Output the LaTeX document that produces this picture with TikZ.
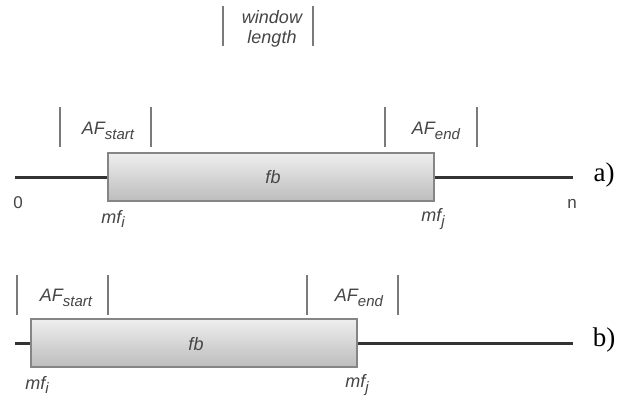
\documentclass[tikz,border=0pt]{standalone}
\usepackage{fontspec}
\setmainfont{Liberation Sans}
\newfontfamily\labserif{Liberation Serif}
\definecolor{txtgray}{HTML}{454545}
\definecolor{bargray}{HTML}{7A7A7A}
\definecolor{linedark}{HTML}{333333}
\definecolor{boxedge}{HTML}{858585}
\definecolor{boxtop}{HTML}{EEEEEE}
\definecolor{boxbot}{HTML}{BDBDBD}
\newcommand{\subtxt}[1]{\raisebox{-4.5pt}{\fontsize{15}{15}\selectfont #1}}
\begin{document}
\begin{tikzpicture}[x=1pt,y=-1pt,
  lbl/.style={font=\fontsize{18}{20}\selectfont\itshape, text=txtgray, inner sep=0pt},
  num/.style={font=\fontsize{17}{18}\selectfont, text=txtgray, inner sep=0pt},
  tag/.style={font=\labserif\fontsize{27}{28}\selectfont, text=black, inner sep=0pt},
  bar/.style={draw=bargray, line width=2.5pt},
  axis/.style={draw=linedark, line width=3pt},
  fbox/.style={draw=boxedge, line width=2.5pt, top color=boxtop, bottom color=boxbot,
    minimum width=326pt, minimum height=48pt, inner sep=0pt, rectangle}]
\useasboundingbox (0,0) rectangle (634,400);
\fill[white] (0,0) rectangle (634,400);

% window length
\draw[bar] (223,6) -- (223,46);
\draw[bar] (313,6) -- (313,46);
\node[lbl, align=center] (wl) at (272,29) {window\\length};

% ---- a) ----
\coordinate (a0) at (15,177);
\coordinate (an) at (573,177);
\node[fbox] (boxa) at (271,177) {};
\draw[axis] (a0) -- (boxa.west);
\draw[axis] (boxa.east) -- (an);
\node[fbox] (boxa) at (271,177) {};
\node[lbl] (fba) at (273,177) {fb};
\draw[bar] (60,107) -- (60,147);
\draw[bar] (151,107) -- (151,147);
\node[lbl] (afsa) at (108,131) {AF\subtxt{start}};
\draw[bar] (385,107) -- (385,147);
\draw[bar] (477,107) -- (477,147);
\node[lbl] (afea) at (436,131) {AF\subtxt{end}};
\node[num] (zero) at (18,203) {0};
\node[num] (nn) at (572,204) {n};
\node[lbl] (mfia) at (113,219) {mf\subtxt{i}};
\node[lbl] (mfja) at (433,219) {mf\subtxt{j}};
\node[tag] (taga) at (604,175) {a)};

% ---- b) ----
\coordinate (b0) at (15,343);
\coordinate (bn) at (573,343);
\node[fbox] (boxb) at (194,343) {};
\draw[axis] (b0) -- (boxb.west);
\draw[axis] (boxb.east) -- (bn);
\node[fbox] (boxb) at (194,343) {};
\node[lbl] (fbb) at (196,344) {fb};
\draw[bar] (17,275) -- (17,315);
\draw[bar] (108,275) -- (108,315);
\node[lbl] (afsb) at (66,298) {AF\subtxt{start}};
\draw[bar] (307,275) -- (307,315);
\draw[bar] (398,275) -- (398,315);
\node[lbl] (afeb) at (359,298) {AF\subtxt{end}};
\node[lbl] (mfib) at (37,385) {mf\subtxt{i}};
\node[lbl] (mfjb) at (357,385) {mf\subtxt{j}};
\node[tag] (tagb) at (604,340) {b)};
\end{tikzpicture}
\end{document}
